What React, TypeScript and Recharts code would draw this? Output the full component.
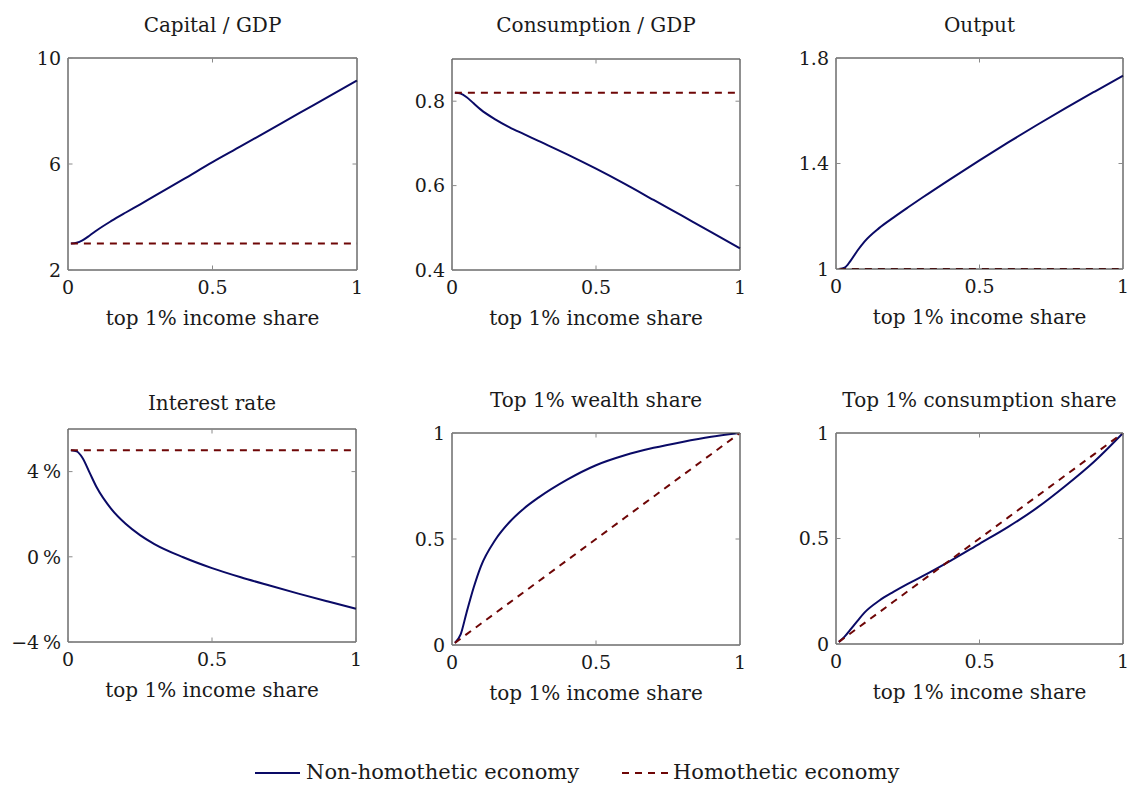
import { LineChart, Line, XAxis, YAxis } from 'recharts';

// top 1% income share (x values shared by every panel)
const incomeShare = [0.01, 0.03, 0.05, 0.075, 0.1, 0.15, 0.2, 0.25, 0.3, 0.4, 0.5, 0.6, 0.7, 0.8, 0.9, 1];
const xTicks = [0, 0.5, 1];

// Non-homothetic economy
const capitalNon = [3.0, 3.03, 3.12, 3.3, 3.5, 3.85, 4.17, 4.48, 4.8, 5.43, 6.07, 6.68, 7.3, 7.92, 8.53, 9.15];
const consumptionNon = [0.82, 0.818, 0.81, 0.795, 0.78, 0.757, 0.738, 0.722, 0.706, 0.674, 0.64, 0.604, 0.566, 0.528, 0.49, 0.451];
const outputNon = [1.0, 1.005, 1.03, 1.07, 1.105, 1.155, 1.195, 1.233, 1.27, 1.342, 1.412, 1.48, 1.546, 1.61, 1.672, 1.733];
const rateNon = [5.0, 4.95, 4.65, 3.95, 3.25, 2.25, 1.55, 1.02, 0.6, -0.02, -0.53, -0.96, -1.35, -1.73, -2.09, -2.44];
const wealthShareNon = [0.01, 0.05, 0.15, 0.27, 0.37, 0.495, 0.58, 0.644, 0.695, 0.78, 0.848, 0.895, 0.93, 0.958, 0.982, 1.0];
const consShareNon = [0.01, 0.035, 0.068, 0.11, 0.15, 0.205, 0.247, 0.285, 0.32, 0.395, 0.475, 0.555, 0.645, 0.75, 0.865, 1.0];

// Homothetic economy
const capitalHom = [3, 3, 3, 3, 3, 3, 3, 3, 3, 3, 3, 3, 3, 3, 3, 3];
const consumptionHom = [0.82, 0.82, 0.82, 0.82, 0.82, 0.82, 0.82, 0.82, 0.82, 0.82, 0.82, 0.82, 0.82, 0.82, 0.82, 0.82];
const outputHom = [1, 1, 1, 1, 1, 1, 1, 1, 1, 1, 1, 1, 1, 1, 1, 1];
const rateHom = [5, 5, 5, 5, 5, 5, 5, 5, 5, 5, 5, 5, 5, 5, 5, 5];
const wealthShareHom = [0.01, 0.03, 0.05, 0.075, 0.1, 0.15, 0.2, 0.25, 0.3, 0.4, 0.5, 0.6, 0.7, 0.8, 0.9, 1];
const consShareHom = [0.01, 0.03, 0.05, 0.075, 0.1, 0.15, 0.2, 0.25, 0.3, 0.4, 0.5, 0.6, 0.7, 0.8, 0.9, 1];

const FONT = "'DejaVu Serif', serif";
const TEXT = '#1a1a1a';
const NAVY = '#0a0a66';
const MAROON = '#6e0606';
const TICK = '#8a8a8a';

const fmtPlain = (v: number) => String(v);
const fmtOne = (v: number) => v.toFixed(1);
const fmtPct = (v: number) => (v < 0 ? `\u2212${-v}\u2009%` : `${v}\u2009%`);

const panels = [
  { title: 'Capital / GDP', non: capitalNon, hom: capitalHom, domain: [2, 10], ticks: [2, 6, 10], fmt: fmtPlain, left: 68, top: 58, w: 289, h: 212, titleY: 31.5 },
  { title: 'Consumption / GDP', non: consumptionNon, hom: consumptionHom, domain: [0.4, 0.9], ticks: [0.4, 0.6, 0.8], fmt: fmtOne, left: 452, top: 59, w: 288, h: 211, titleY: 31.5 },
  { title: 'Output', non: outputNon, hom: outputHom, domain: [1, 1.8], ticks: [1, 1.4, 1.8], fmt: (v: number) => (v === 1 ? '1' : v.toFixed(1)), left: 836, top: 58, w: 287, h: 211, titleY: 31.5 },
  { title: 'Interest rate', non: rateNon, hom: rateHom, domain: [-4, 6], ticks: [-4, 0, 4], fmt: fmtPct, left: 68, top: 429, w: 288, h: 213, titleY: 409.5 },
  { title: 'Top 1% wealth share', non: wealthShareNon, hom: wealthShareHom, domain: [0, 1], ticks: [0, 0.5, 1], fmt: fmtPlain, left: 452, top: 433, w: 288, h: 212, titleY: 406.5 },
  { title: 'Top 1% consumption share', non: consShareNon, hom: consShareHom, domain: [0, 1], ticks: [0, 0.5, 1], fmt: fmtPlain, left: 836, top: 433, w: 287, h: 211, titleY: 406.5 },
];

const ML = 70;
const MR = 10;
const MT = 10;
const MB = 34;

const XTickBottom = (props: any) => {
  const { x, y, payload } = props;
  return (
    <g>
      <line x1={x} x2={x} y1={y} y2={y - 4.5} stroke={TICK} strokeWidth={1} />
      <text x={x} y={y + 24} textAnchor="middle" fontFamily={FONT} fontSize={19} fill={TEXT}>
        {String(payload.value)}
      </text>
    </g>
  );
};

const XTickTop = (props: any) => {
  const { x, y } = props;
  return <line x1={x} x2={x} y1={y} y2={y + 4.5} stroke={TICK} strokeWidth={1} />;
};

const makeYTickLeft = (fmt: (v: number) => string) => (props: any) => {
  const { x, y, payload } = props;
  return (
    <g>
      <line x1={x} x2={x + 4.5} y1={y} y2={y} stroke={TICK} strokeWidth={1} />
      <text x={x - 7} y={y} dy="0.36em" textAnchor="end" fontFamily={FONT} fontSize={19} fill={TEXT}>
        {fmt(payload.value)}
      </text>
    </g>
  );
};

const YTickRight = (props: any) => {
  const { x, y } = props;
  return <line x1={x} x2={x - 4.5} y1={y} y2={y} stroke={TICK} strokeWidth={1} />;
};

const Panel = ({ p }: { p: any }) => {
  const data = incomeShare.map((x, i) => ({ x, non: p.non[i], hom: p.hom[i] }));
  const axisLine = { stroke: '#222', strokeWidth: 1 };
  return (
    <div style={{ position: 'absolute', left: p.left - ML, top: p.top - MT }}>
      <LineChart width={p.w + ML + MR} height={p.h + MT + MB} data={data} margin={{ top: 0, right: 0, bottom: 0, left: 0 }}>
        <XAxis xAxisId="b" dataKey="x" type="number" domain={[0, 1]} ticks={xTicks} interval={0} orientation="bottom" height={MB} tickLine={false} tickSize={0} tickMargin={0} axisLine={axisLine} tick={XTickBottom} />
        <XAxis xAxisId="t" dataKey="x" type="number" domain={[0, 1]} ticks={xTicks} interval={0} orientation="top" height={MT} tickLine={false} tickSize={0} tickMargin={0} axisLine={axisLine} tick={XTickTop} />
        <YAxis yAxisId="l" type="number" domain={p.domain} ticks={p.ticks} interval={0} orientation="left" width={ML} tickLine={false} tickSize={0} tickMargin={0} axisLine={axisLine} tick={makeYTickLeft(p.fmt)} allowDataOverflow />
        <YAxis yAxisId="r" type="number" domain={p.domain} ticks={p.ticks} interval={0} orientation="right" width={MR} tickLine={false} tickSize={0} tickMargin={0} axisLine={axisLine} tick={YTickRight} allowDataOverflow />
        <Line xAxisId="b" yAxisId="l" type="monotone" dataKey="non" stroke={NAVY} strokeWidth={2} dot={false} activeDot={false} isAnimationActive={false} />
        <Line xAxisId="b" yAxisId="l" type="linear" dataKey="hom" stroke={MAROON} strokeWidth={2} strokeDasharray="7 6" dot={false} activeDot={false} isAnimationActive={false} />
      </LineChart>
    </div>
  );
};

export default function App() {
  return (
    <div style={{ position: 'absolute', left: 0, top: 0, width: 1128, height: 786, background: '#fff', overflow: 'hidden' }}>
      {panels.map((p) => (
        <Panel key={p.title} p={p} />
      ))}
      <svg width={1128} height={786} style={{ position: 'absolute', left: 0, top: 0, pointerEvents: 'none' }}>
        {panels.map((p) => (
          <g key={p.title}>
            <text x={p.left + p.w / 2} y={p.titleY} textAnchor="middle" fontFamily={FONT} fontSize={20} fill={TEXT}>
              {p.title}
            </text>
            <text x={p.left + p.w / 2} y={p.top + p.h + 55} textAnchor="middle" fontFamily={FONT} fontSize={20} fill={TEXT}>
              top 1% income share
            </text>
          </g>
        ))}
        <line x1={255} x2={300} y1={773} y2={773} stroke={NAVY} strokeWidth={2} />
        <text x={306} y={779} fontFamily={FONT} fontSize={21} fill={TEXT}>
          Non-homothetic economy
        </text>
        <line x1={622} x2={668} y1={773} y2={773} stroke={MAROON} strokeWidth={2} strokeDasharray="7 6" />
        <text x={673} y={779} fontFamily={FONT} fontSize={21} fill={TEXT}>
          Homothetic economy
        </text>
      </svg>
    </div>
  );
}
